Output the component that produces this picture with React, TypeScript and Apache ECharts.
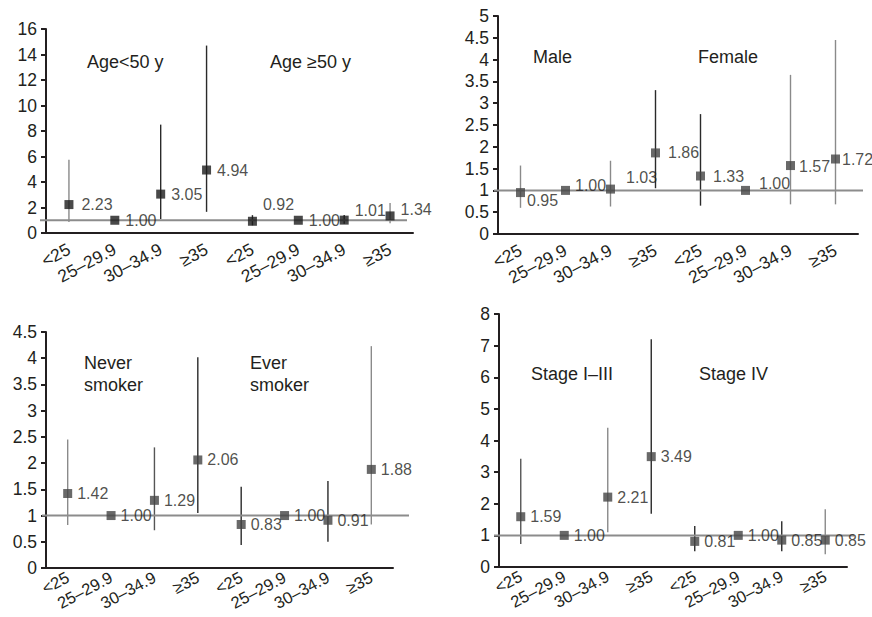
import React, { useEffect, useRef } from "react";
import * as echarts from "echarts";

const categories = ["<25", "25–29.9", "30–34.9", "≥35", "<25", "25–29.9", "30–34.9", "≥35"];

// Panel 1: Age
const agePoint = [2.23, 1.0, 3.05, 4.94, 0.92, 1.0, 1.01, 1.34];
const ageLower = [0.87, null, 1.09, 1.66, 0.6, null, 0.72, 0.76];
const ageUpper = [5.75, null, 8.5, 14.7, 1.4, null, 1.42, 2.35];

// Panel 2: Sex
const sexPoint = [0.95, 1.0, 1.03, 1.86, 1.33, 1.0, 1.57, 1.72];
const sexLower = [0.6, null, 0.63, 1.05, 0.65, null, 0.68, 0.68];
const sexUpper = [1.57, null, 1.68, 3.3, 2.75, null, 3.65, 4.45];

// Panel 3: Smoking
const smokePoint = [1.42, 1.0, 1.29, 2.06, 0.83, 1.0, 0.91, 1.88];
const smokeLower = [0.82, null, 0.72, 1.05, 0.44, null, 0.5, 0.83];
const smokeUpper = [2.45, null, 2.3, 4.02, 1.55, null, 1.66, 4.23];

// Panel 4: Stage
const stagePoint = [1.59, 1.0, 2.21, 3.49, 0.81, 1.0, 0.85, 0.85];
const stageLower = [0.73, null, 1.1, 1.68, 0.5, null, 0.5, 0.4];
const stageUpper = [3.42, null, 4.4, 7.2, 1.3, null, 1.45, 1.83];

const referenceValue = 1;

const groupLabels = [
  ["Age<50 y", "Age ≥50 y"],
  ["Male", "Female"],
  ["Never\nsmoker", "Ever\nsmoker"],
  ["Stage I–III", "Stage IV"],
];

const yMax = [16, 5, 4.5, 8];
const yInterval = [2, 0.5, 0.5, 1];

// ---- styling / layout (not data) ----
const FONT = "Liberation Sans, Arial, Helvetica, sans-serif";
const INK = "#231f20";
const GRAY = "#8a8a8a";
const DARK = "#2a2a2a";
const MID = "#555555";

const grids = [
  { left: 46, top: 29, width: 367, height: 204 },
  { left: 498, top: 16, width: 360, height: 218 },
  { left: 46, top: 332, width: 347, height: 236 },
  { left: 499, top: 314, width: 348, height: 253 },
];
const xLabelMargin = [15, 15, 8, 8];
const xLabelSize = [17.5, 17.5, 16.5, 16.5];
// how far the reference line overshoots the plot on the left / right
const refLineExtent = [
  [6, -6],
  [4, 5],
  [4, 16],
  [5, 7],
];

const markerColors = ["#1c1c1c", "#444444", "#444444", "#444444"];
const barColors = [
  [GRAY, DARK, DARK, DARK, DARK, DARK, DARK, GRAY],
  [GRAY, DARK, GRAY, DARK, DARK, DARK, GRAY, GRAY],
  [GRAY, DARK, MID, DARK, DARK, DARK, DARK, GRAY],
  [MID, DARK, GRAY, DARK, DARK, DARK, DARK, GRAY],
];
const labelDistance = [6, 8, 5, 5];
const labelOffsets: Record<string, number[]> = {
  "0-0": [2, 0],
  "0-4": [0, -17],
  "0-6": [0, -10],
  "0-7": [0, -6],
  "1-0": [-6, 8],
  "1-1": [-3, -5],
  "1-2": [3, -12],
  "1-5": [1, -7],
  "1-6": [-4, 1],
  "1-7": [-6, 0],
};

const annotations = [
  { x: 87, y: 62, p: 0, k: 0 },
  { x: 270, y: 62, p: 0, k: 1 },
  { x: 533, y: 57, p: 1, k: 0 },
  { x: 698, y: 57, p: 1, k: 1 },
  { x: 84, y: 374, p: 2, k: 0 },
  { x: 250, y: 374, p: 2, k: 1 },
  { x: 531, y: 374, p: 3, k: 0 },
  { x: 699, y: 374, p: 3, k: 1 },
];

const panels = [
  { point: agePoint, lower: ageLower, upper: ageUpper },
  { point: sexPoint, lower: sexLower, upper: sexUpper },
  { point: smokePoint, lower: smokeLower, upper: smokeUpper },
  { point: stagePoint, lower: stageLower, upper: stageUpper },
];

function buildOption() {
  const grid: any[] = [];
  const xAxis: any[] = [];
  const yAxis: any[] = [];
  const series: any[] = [];

  panels.forEach((pd, p) => {
    grid.push({ ...grids[p], containLabel: false, outerBoundsMode: "none" });
    xAxis.push({
      type: "category",
      gridIndex: p,
      data: categories,
      boundaryGap: true,
      axisLine: { show: true, lineStyle: { color: INK, width: 2 } },
      axisTick: { show: false },
      splitLine: { show: false },
      axisLabel: {
        interval: 0,
        rotate: 28,
        margin: xLabelMargin[p],
        fontSize: xLabelSize[p],
        fontFamily: FONT,
        color: INK,
        hideOverlap: false,
      },
    });
    yAxis.push({
      type: "value",
      gridIndex: p,
      min: 0,
      max: yMax[p],
      interval: yInterval[p],
      axisLine: { show: true, lineStyle: { color: INK, width: 2 } },
      axisTick: { show: true, length: 5, lineStyle: { color: INK, width: 2 } },
      splitLine: { show: false },
      axisLabel: { fontSize: 17.5, fontFamily: FONT, color: INK, margin: 9 },
    });

    const ciData: any[] = [];
    pd.point.forEach((_, i) => {
      if (pd.lower[i] != null && pd.upper[i] != null) {
        ciData.push([i, pd.lower[i], pd.upper[i]]);
      }
    });

    // reference line at OR = 1
    series.push({
      type: "custom",
      xAxisIndex: p,
      yAxisIndex: p,
      data: [[0, referenceValue]],
      z: 3,
      silent: true,
      clip: false,
      renderItem: (params: any, api: any) => {
        const cs = params.coordSys;
        const y = api.coord([0, api.value(1)])[1];
        return {
          type: "line",
          shape: {
            x1: cs.x - refLineExtent[p][0],
            y1: y,
            x2: cs.x + cs.width + refLineExtent[p][1],
            y2: y,
          },
          style: { stroke: "#8c8c8c", lineWidth: 2 },
        };
      },
    });

    series.push({
      type: "custom",
      xAxisIndex: p,
      yAxisIndex: p,
      data: ciData,
      z: 2,
      encode: { x: 0, y: [1, 2] },
      renderItem: (params: any, api: any) => {
        const idx = api.value(0);
        const a = api.coord([idx, api.value(1)]);
        const b = api.coord([idx, api.value(2)]);
        return {
          type: "line",
          shape: { x1: a[0], y1: a[1], x2: b[0], y2: b[1] },
          style: { stroke: barColors[p][idx], lineWidth: 1.4 },
        };
      },
    });

    series.push({
      type: "scatter",
      xAxisIndex: p,
      yAxisIndex: p,
      symbol: "rect",
      symbolSize: 9,
      z: 4,
      itemStyle: { color: markerColors[p] },
      data: pd.point.map((v, i) => {
        const off = labelOffsets[`${p}-${i}`];
        return {
          value: [i, v],
          label: off ? { offset: off } : undefined,
        };
      }),
      label: {
        show: true,
        position: "right",
        distance: labelDistance[p],
        fontSize: 16,
        fontFamily: FONT,
        color: INK,
        formatter: (prm: any) => Number(prm.value[1]).toFixed(2),
      },
    });
  });

  const graphic = annotations.map((a) => ({
    type: "text",
    x: a.x,
    y: a.y,
    style: {
      text: groupLabels[a.p][a.k],
      fontSize: 18,
      fontFamily: FONT,
      fill: INK,
      verticalAlign: "middle",
      lineHeight: 22,
    },
  }));

  return {
    animation: false,
    backgroundColor: "#ffffff",
    grid,
    xAxis,
    yAxis,
    series,
    graphic,
  };
}

export default function App() {
  const ref = useRef<HTMLDivElement>(null);
  useEffect(() => {
    if (!ref.current) return;
    const chart = echarts.init(ref.current, undefined, { renderer: "svg" });
    chart.setOption(buildOption() as any);
    return () => chart.dispose();
  }, []);
  return (
    <div
      ref={ref}
      style={{ position: "fixed", left: 0, top: 0, width: 872, height: 617, background: "#fff" }}
    />
  );
}
